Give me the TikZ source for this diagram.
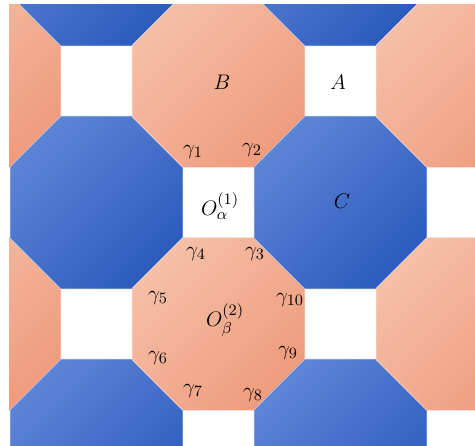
\documentclass[tikz,border=0pt]{standalone}
\usepackage{amsmath,amssymb}
\usepackage{xcolor}
\usepackage{tikz}
\usetikzlibrary{calc}

\definecolor{octblueA}{HTML}{5D85D6}
\definecolor{octblueB}{HTML}{2C5BBE}
\definecolor{octsalA}{HTML}{F5BFA7}
\definecolor{octsalB}{HTML}{EF9C7D}

\begin{document}
\begin{tikzpicture}[x=0.02cm, y=-0.02cm,
			blueoct/.style={top color=octblueA, bottom color=octblueB, shading angle=45,
				draw=white!60!octblueA, line width=0.25pt},
			salmonoct/.style={top color=octsalA, bottom color=octsalB, shading angle=45,
				draw=white!50!octsalA, line width=0.25pt},
			lbl/.style={font=\fontsize{13}{15}\selectfont, inner sep=1pt}
			]
			\useasboundingbox (0,0) rectangle (475,445);
			\clip (9,5) rectangle (475,445);
			
			% octagons on a checkerboard, squares left white
			\foreach \i in {-1,...,3}{
				\foreach \j in {-1,...,3}{
					\pgfmathtruncatemacro\oddsum{mod(\i+\j+10,2)}
					\pgfmathtruncatemacro\iodd{mod(\i+10,2)}
					\ifnum\oddsum=1
						\ifnum\iodd=0
							\tikzset{curoct/.style={blueoct}}
						\else
							\tikzset{curoct/.style={salmonoct}}
						\fi
						\draw[curoct, shift={(96.5+122*\i, 81+121.5*\j)}]
							(-35.75,-86.3) -- (35.75,-86.3) -- (86.3,-35.75) -- (86.3,35.75)
							-- (35.75,86.3) -- (-35.75,86.3) -- (-86.3,35.75) -- (-86.3,-35.75) -- cycle;
					\fi
				}
			}
			
			\node[lbl] (labB) at (222,82) {$B$};
			\node[lbl] (labA) at (338,82) {$A$};
			\node[lbl] (labC) at (342,201) {$C$};
			\node[lbl] (oalpha) at (220,206) {$O_{\alpha}^{(1)}$};
			\node[lbl] (obeta) at (225,320) {$O_{\beta}^{(2)}$};
			
			\node[lbl] (g1) at (193,152) {$\gamma_1$};
			\node[lbl] (g2) at (252,150) {$\gamma_2$};
			\node[lbl] (g3) at (255,254) {$\gamma_3$};
			\node[lbl] (g4) at (196,254) {$\gamma_4$};
			\node[lbl] (g5) at (158,298) {$\gamma_5$};
			\node[lbl] (g6) at (158,358) {$\gamma_6$};
			\node[lbl] (g7) at (193,391) {$\gamma_7$};
			\node[lbl] (g8) at (253,395) {$\gamma_8$};
			\node[lbl] (g9) at (288,353) {$\gamma_9$};
			\node[lbl] (g10) at (290,300) {$\gamma_{10}$};
		\end{tikzpicture}
\end{document}
